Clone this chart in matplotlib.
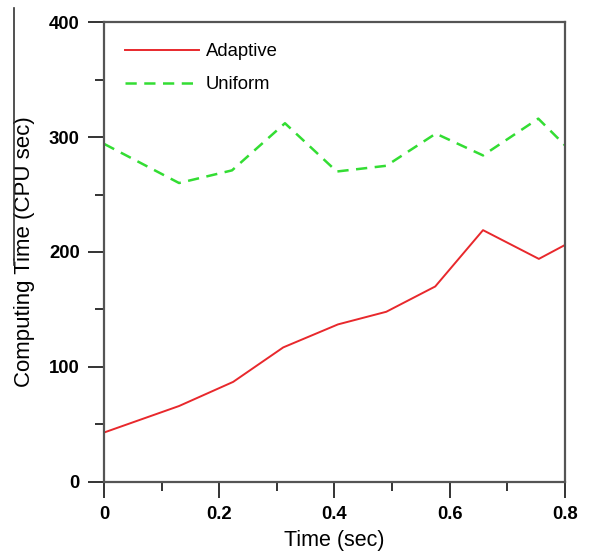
import matplotlib
matplotlib.use('Agg')
import matplotlib.pyplot as plt
from matplotlib.lines import Line2D
from matplotlib.ticker import MultipleLocator

# data
t_adaptive = [0, 0.13, 0.224, 0.311, 0.406, 0.49, 0.575, 0.658, 0.755, 0.8]
adaptive = [43, 66, 87, 117, 137, 148, 170, 219, 194, 206]
t_uniform = [0, 0.13, 0.222, 0.314, 0.404, 0.49, 0.576, 0.658, 0.754, 0.8]
uniform = [294, 260, 271, 312, 270, 275, 303, 284, 316, 293]
xticks = [0, 0.2, 0.4, 0.6, 0.8]
xticklabels = ['0', '0.2', '0.4', '0.6', '0.8']

plt.rcParams['font.family'] = ['Liberation Sans', 'DejaVu Sans']

fig = plt.figure(figsize=(5.92, 5.52), dpi=100)
ax = fig.add_axes([0.176, 0.127, 0.778, 0.833])

ax.plot(t_adaptive, adaptive, color='#e8282c', lw=1.4, label='Adaptive')
ax.plot(t_uniform, uniform, color='#33dd33', lw=1.8, ls=(0, (4.5, 3)), label='Uniform')

ax.set_xlim(0, 0.8)
ax.set_ylim(0, 400)
ax.set_xticks(xticks)
ax.set_xticklabels(xticklabels)
ax.xaxis.set_minor_locator(MultipleLocator(0.1))
ax.yaxis.set_major_locator(MultipleLocator(100))
ax.yaxis.set_minor_locator(MultipleLocator(50))

for s in ax.spines.values():
    s.set_color('#555555')
    s.set_linewidth(1.6)
ax.tick_params(which='major', length=11.5, width=1.4, color='#333333',
               labelsize=13.3, pad=6)
ax.tick_params(which='minor', length=6.5, width=1.4, color='#333333')
for lab in ax.get_xticklabels() + ax.get_yticklabels():
    lab.set_fontweight('bold')

ax.set_xlabel('Time (sec)', fontsize=15.5, labelpad=5)
ax.set_ylabel('Computing Time (CPU sec)', fontsize=16, labelpad=10)

ax.legend(loc='upper left', frameon=False, fontsize=13.3,
          handlelength=4.0, handletextpad=0.35, labelspacing=0.85,
          bbox_to_anchor=(0.01, 0.99))

# stray crop line at the left edge of the source image
fig.add_artist(Line2D([14/592, 14/592], [1 - 8/552, 1 - 265/552],
                      transform=fig.transFigure, color='#333333', lw=1.2))

fig.savefig('out.png', dpi=100)
